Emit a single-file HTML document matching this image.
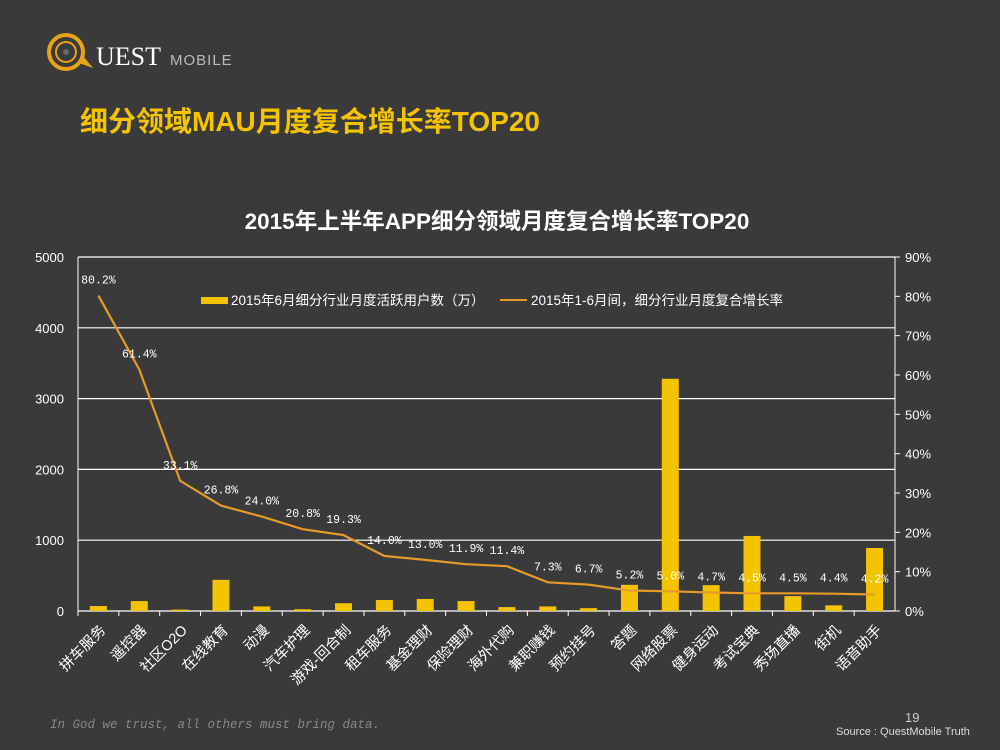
<!DOCTYPE html>
<html><head><meta charset="utf-8"><style>
body{margin:0;background:#3a3a3a;}
#root{position:relative;width:1000px;height:750px;background:#3a3a3a;font-family:"Liberation Sans","Noto Sans CJK SC",sans-serif;overflow:hidden}
</style></head><body>
<div id="root">
<svg width="1000" height="750" id="svg">
<g>
<circle cx="66" cy="52" r="17" fill="none" stroke="#e8a317" stroke-width="4"/>
<circle cx="66" cy="52" r="10" fill="none" stroke="#e8a317" stroke-width="2"/>
<circle cx="66" cy="52" r="3" fill="#666"/>
<path d="M79 63 L93 68 L84 57" fill="#e8a317"/>
<text x="96" y="65" font-family="Liberation Serif,serif" font-size="26" fill="#fff">UEST</text>
<text x="170" y="65" font-size="15" fill="#bbb" letter-spacing="1">MOBILE</text>
</g>
<text x="80" y="131" font-size="28" font-weight="bold" fill="#f5c400">细分领域MAU月度复合增长率TOP20</text>
<text x="497" y="229" text-anchor="middle" font-size="22.5" font-weight="bold" fill="#fff">2015年上半年APP细分领域月度复合增长率TOP20</text>
<g id="grid"></g><g id="bars"></g><g id="line"></g><g id="labels"></g>
<g>
<rect x="201" y="297" width="27" height="7" fill="#f5c400"/>
<text x="231" y="305" font-size="13.5" fill="#fff">2015年6月细分行业月度活跃用户数（万）</text>
<line x1="500" y1="300" x2="527" y2="300" stroke="#e69a28" stroke-width="2"/>
<text x="531" y="305" font-size="13.5" fill="#fff">2015年1-6月间，细分行业月度复合增长率</text>
</g>
<text x="50" y="728" font-family="Liberation Mono,monospace" font-style="italic" font-size="12.5" fill="#888">In God we trust, all others must bring data.</text>
<text x="905" y="722" font-size="13" fill="#ccc">19</text>
<text x="836" y="735" font-size="11" fill="#ddd">Source : QuestMobile Truth</text>
</svg>
</div>
<script>
const categories=["拼车服务","遥控器","社区O2O","在线教育","动漫","汽车护理","游戏-回合制","租车服务","基金理财","保险理财","海外代购","兼职赚钱","预约挂号","答题","网络股票","健身运动","考试宝典","秀场直播","街机","语音助手"];
const mauValues=[70,140,20,440,65,25,110,155,170,140,55,65,40,370,3280,365,1060,210,80,890];
const growthValues=[80.2,61.4,33.1,26.8,24.0,20.8,19.3,14.0,13.0,11.9,11.4,7.3,6.7,5.2,5.0,4.7,4.5,4.5,4.4,4.2];
const leftTicks=[0,1000,2000,3000,4000,5000];
const rightTicks=[0,10,20,30,40,50,60,70,80,90];
const NS="http://www.w3.org/2000/svg";
const X0=78,X1=895,Y0=611,Y1=257;
const bw=(X1-X0)/categories.length;
const xc=i=>X0+bw*(i+0.5);
const yL=v=>Y0-(v/5000)*(Y0-Y1);
const yR=v=>Y0-(v/90)*(Y0-Y1);
function mk(t,a,p){const e=document.createElementNS(NS,t);for(const k in a)e.setAttribute(k,a[k]);document.getElementById(p).appendChild(e);return e;}
leftTicks.forEach(v=>{
 const l=mk('line',{x1:X0,x2:X1,y1:yL(v),y2:yL(v),stroke:'#fff','stroke-width':1.2},'grid');
 
 
 const t=mk('text',{x:64,y:yL(v)+5,'text-anchor':'end','font-size':13,fill:'#fff'},'grid');t.textContent=v;
 
 
});
rightTicks.forEach(v=>{
 mk('line',{x1:X1,x2:X1+5,y1:yR(v),y2:yR(v),stroke:'#fff'},'grid');
 const t=mk('text',{x:905,y:yR(v)+5,'font-size':13,fill:'#fff'},'grid');t.textContent=v+'%';
 
 
});
mk('line',{x1:X0,x2:X0,y1:Y1,y2:Y0,stroke:'#fff'},'grid');
mk('line',{x1:X1,x2:X1,y1:Y1,y2:Y0,stroke:'#fff'},'grid');
categories.forEach((c,i)=>{
 mk('line',{x1:X0+bw*i,x2:X0+bw*i,y1:Y0,y2:Y0+5,stroke:'#fff'},'grid');
 const b=mk('rect',{x:xc(i)-8.5,y:yL(mauValues[i]),width:17,height:Y0-yL(mauValues[i]),fill:'#f5c400'},'bars');
 
 
 const t=mk('text',{x:xc(i)+8,y:Y0+20,'text-anchor':'end','font-size':14.5,fill:'#fff',transform:`rotate(-45 ${xc(i)+8} ${Y0+20})`},'labels');t.textContent=c;
 
 
 const g=mk('text',{x:xc(i),y:yR(growthValues[i])-12,'text-anchor':'middle','font-family':'Liberation Mono,monospace','font-size':11.5,fill:'#fff'},'labels');g.textContent=growthValues[i].toFixed(1)+'%';
 
 
});
const p=mk('polyline',{points:growthValues.map((v,i)=>xc(i)+','+yR(v)).join(' '),fill:'none',stroke:'#e69a28','stroke-width':2.2},'line');


</script>
</body></html>
